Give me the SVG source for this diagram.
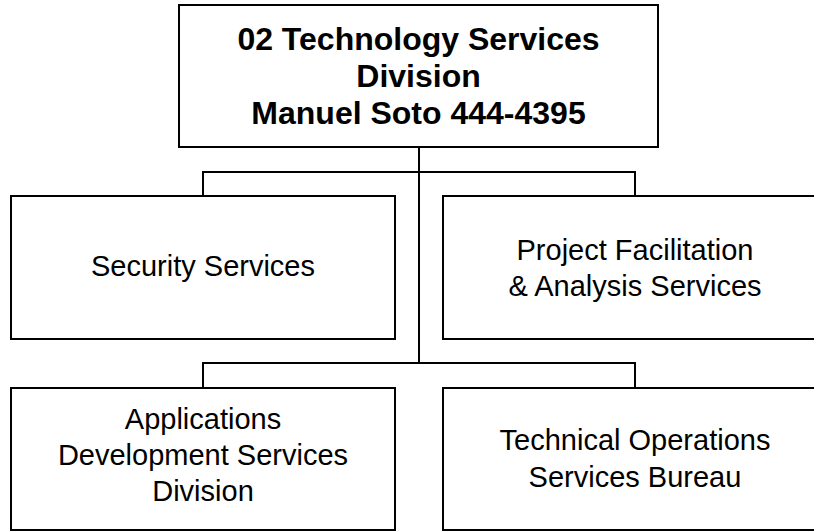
<svg xmlns="http://www.w3.org/2000/svg" width="814" height="531" viewBox="0 0 814 531">
<style>
.box{fill:#fff;stroke:#000;stroke-width:2}
.ln{fill:none;stroke:#000;stroke-width:2}
.t{font-family:"Liberation Sans",Arial,sans-serif;font-size:29px;fill:#000;text-anchor:middle}
.b{font-weight:bold;font-size:32px}
</style>
<rect width="814" height="531" fill="#fff"/>
<g id="connectors">
<path class="ln" d="M419,147 V363 M203,196 V172 H635 V196 M203,388 V363 H635 V388"/>
</g>
<g id="n0">
<rect class="box" x="179" y="5" width="479" height="142"/>
<text class="t b" x="418.5" y="50">02 Technology Services</text>
<text class="t b" x="418.5" y="87">Division</text>
<text class="t b" x="418.5" y="124">Manuel Soto 444-4395</text>
</g>
<g id="n1">
<rect class="box" x="11" y="196" width="384" height="143"/>
<text class="t" x="203" y="276">Security Services</text>
</g>
<g id="n2">
<rect class="box" x="443" y="196" width="384" height="143"/>
<text class="t" x="635" y="260">Project Facilitation</text>
<text class="t" x="635" y="296">&amp; Analysis Services</text>
</g>
<g id="n3">
<rect class="box" x="11" y="388" width="384" height="142"/>
<text class="t" x="203" y="429">Applications</text>
<text class="t" x="203" y="465">Development Services</text>
<text class="t" x="203" y="501">Division</text>
</g>
<g id="n4">
<rect class="box" x="443" y="388" width="384" height="142"/>
<text class="t" x="635" y="450">Technical Operations</text>
<text class="t" x="635" y="487">Services Bureau</text>
</g>
</svg>
